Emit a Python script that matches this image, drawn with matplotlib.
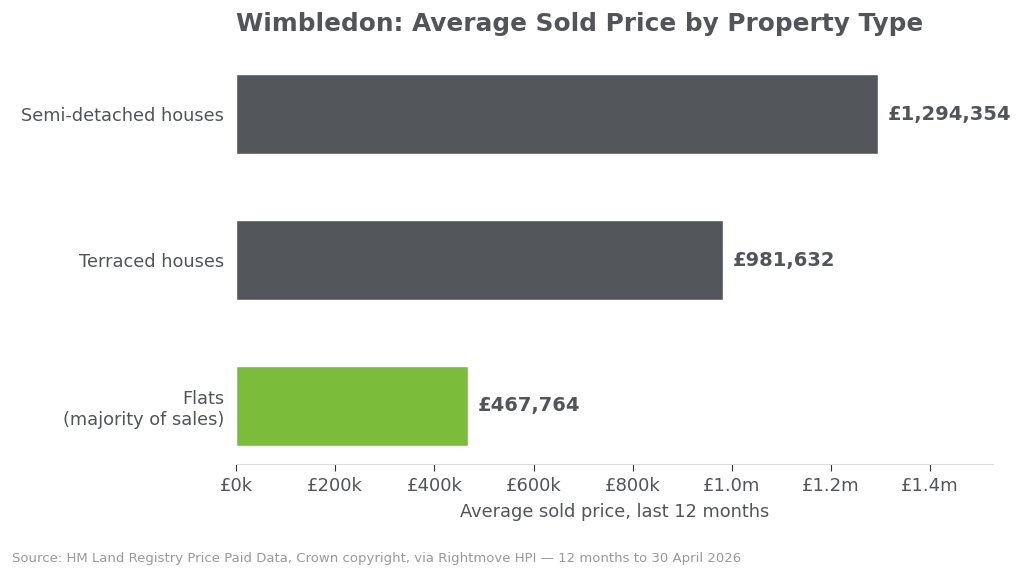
import matplotlib.pyplot as plt
from matplotlib.ticker import FuncFormatter

categories = ['Flats\n(majority of sales)', 'Terraced houses', 'Semi-detached houses']
prices = [467764, 981632, 1294354]
colors = ['#7bbd3a', '#53565b', '#53565b']
xticks = [0, 200000, 400000, 600000, 800000, 1000000, 1200000, 1400000]

text_c = '#525459'

fig = plt.figure(figsize=(10.24, 5.78), dpi=100)
ax = fig.add_axes([0.2305, 0.197, 0.7395, 0.706])

ypos = range(len(categories))
ax.barh(ypos, prices, height=0.55, color=colors, edgecolor='white', linewidth=1)
for y, v in zip(ypos, prices):
    ax.annotate(f'£{v:,.0f}', (v, y), xytext=(7, 0), textcoords='offset points',
                va='center', ha='left', fontsize=14, fontweight='bold', color=text_c)

ax.set_yticks(list(ypos))
ax.set_yticklabels(categories, fontsize=12.75, color=text_c)
ax.set_ylim(-0.4, 2.4)
ax.set_xlim(0, 1294354 * 1.18)
ax.set_xticks(xticks)


def fmt(x, pos):
    if x >= 1000000:
        return f'£{x / 1e6:.1f}m'
    return f'£{x / 1000:.0f}k'


ax.xaxis.set_major_formatter(FuncFormatter(fmt))
ax.tick_params(axis='x', labelsize=13, labelcolor=text_c, color='#333333', length=5, pad=4)
ax.tick_params(axis='y', length=0, pad=8.5)
for s in ['top', 'right', 'left']:
    ax.spines[s].set_visible(False)
ax.spines['bottom'].set_color('#dddddd')
ax.set_xlabel('Average sold price, last 12 months', fontsize=12.75, color=text_c, labelpad=6)

fig.text(0.2305, 0.958, 'Wimbledon: Average Sold Price by Property Type', fontsize=17.8,
         fontweight='bold', color=text_c, ha='left', va='center')
fig.text(0.012, 0.034, 'Source: HM Land Registry Price Paid Data, Crown copyright, via Rightmove HPI \u2014 12 months to 30 April 2026',
         fontsize=9.5, color='#999999', ha='left', va='center')

fig.savefig('out.png', dpi=100)
